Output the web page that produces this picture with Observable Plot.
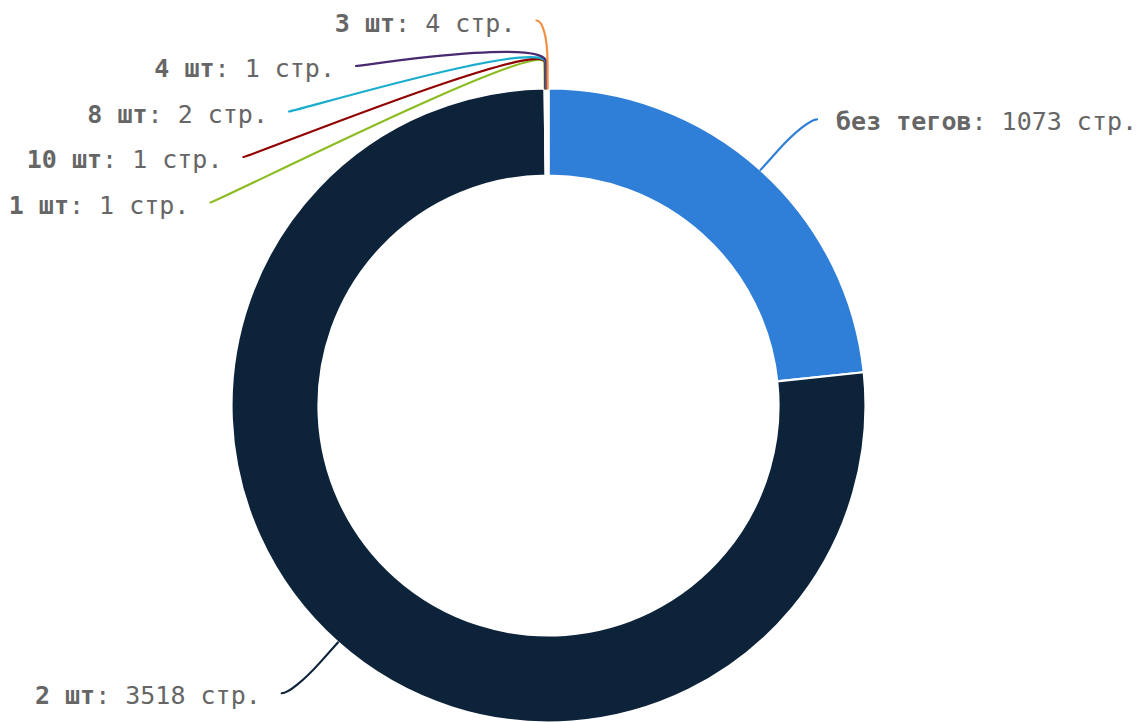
<!DOCTYPE html>
<html>
<head>
<meta charset="utf-8">
<script src="https://cdn.jsdelivr.net/npm/d3@7"></script>
<script src="https://cdn.jsdelivr.net/npm/@observablehq/plot@0.6"></script>
<style>
  html, body { margin: 0; padding: 0; background: #fff; }
  #chart svg { display: block; }
</style>
</head>
<body>
<div id="chart"></div>
<script>
// ---- data ----
const names  = ["без тегов", "2 шт", "1 шт", "10 шт", "8 шт", "4 шт", "3 шт"];
const pages  = [1073, 3518, 1, 1, 2, 1, 4];
const colors = ["#2f7ed8", "#0d233a", "#8bbc21", "#910000", "#1aadce", "#492970", "#f28f43"];
const unit   = "стр.";

// ---- layout (pixels) ----
const W = 1145, H = 722;
const cx = 548, cy = 405, R = 317, r0 = 230;
const labelR = 385, labelPad = 11, breakOff = 26, ctrl = 6, gapLeft = 21, gapRight = 19, spacing = 45.5;
const fontSize = 25, fontFamily = "DejaVu Sans Mono", cw = 0.602 * fontSize;

const rows = names.map((n, i) => ({name: n, value: pages[i]}));
const arcs = d3.pie().sort(null).value(d => d.value)(rows);
const pos = (a, rad) => [cx + rad * Math.sin(a), cy - rad * Math.cos(a)];

// slice outlines: center, outer start, outer end, inner end, inner start
const slicePts = arcs.flatMap(a =>
  [[cx, cy], pos(a.startAngle, R), pos(a.endAngle, R), pos(a.endAngle, r0), pos(a.startAngle, r0)]
    .map(([x, y]) => ({name: a.data.name, x, y})));

// custom curve drawing an annular sector from the 5 points
function ringCurve(context) {
  let p;
  return {
    areaStart() {}, areaEnd() {},
    lineStart() { p = []; },
    point(x, y) { p.push([+x, +y]); },
    lineEnd() {
      const [c, o0, o1, i1, i0] = p;
      const Ro = Math.hypot(o0[0] - c[0], o0[1] - c[1]);
      const Ri = Math.hypot(i0[0] - c[0], i0[1] - c[1]);
      const a0 = Math.atan2(o0[1] - c[1], o0[0] - c[0]);
      const a1 = Math.atan2(o1[1] - c[1], o1[0] - c[0]);
      context.moveTo(o0[0], o0[1]);
      context.arc(c[0], c[1], Ro, a0, a1, false);
      context.lineTo(i1[0], i1[1]);
      context.arc(c[0], c[1], Ri, a1, a0, true);
      context.closePath();
    }
  };
}

// connector: M p0 C p1 p2 p3 L p4
function connectorCurve(context) {
  let p;
  return {
    areaStart() {}, areaEnd() {},
    lineStart() { p = []; },
    point(x, y) { p.push([+x, +y]); },
    lineEnd() {
      context.moveTo(p[0][0], p[0][1]);
      context.bezierCurveTo(p[1][0], p[1][1], p[2][0], p[2][1], p[3][0], p[3][1]);
      context.lineTo(p[4][0], p[4][1]);
    }
  };
}

// label placement
const labels = arcs.map(a => {
  const mid = (a.startAngle + a.endAngle) / 2;
  return {name: a.data.name, value: a.data.value, mid, left: mid > Math.PI, y: cy - labelR * Math.cos(mid)};
});
for (const side of [true, false]) {
  const g = labels.filter(l => l.left === side).sort((p, q) => p.y - q.y);
  let prev = -Infinity;
  for (const l of g) { l.y = Math.max(l.y, prev + spacing); prev = l.y; }
}
labels.forEach(l => {
  const dy = l.y - cy;
  const dx = Math.sqrt(Math.max(0, labelR * labelR - dy * dy));
  const s = l.left ? -1 : 1;
  l.x = cx + s * (dx + labelPad);
  l.rest = ": " + l.value + " " + unit;
  const full = l.name + l.rest;
  l.sx = l.left ? l.x - gapLeft - full.length * cw : l.x + gapRight;
  l.rx = l.sx + l.name.length * cw;
});

const connPts = labels.flatMap(l => {
  const touch = pos(l.mid, R), brk = pos(l.mid, R + breakOff), c2 = pos(l.mid, R + 2 * breakOff);
  const c1 = [l.x + (l.left ? ctrl : -ctrl), l.y];
  return [[l.x, l.y], c1, c2, brk, touch].map(([x, y]) => ({name: l.name, x, y}));
});

const chart = Plot.plot({
  width: W, height: H, margin: 0,
  x: {domain: [0, W], range: [0, W], axis: null},
  y: {domain: [0, H], range: [0, H], axis: null},
  color: {domain: names, range: colors},
  style: {background: "#fff", overflow: "visible"},
  marks: [
    Plot.line(slicePts, {x: "x", y: "y", z: "name", fill: "name", stroke: "#fff", strokeWidth: 2.2, curve: ringCurve}),
    Plot.line(connPts, {x: "x", y: "y", z: "name", stroke: "name", strokeWidth: 2.2, curve: connectorCurve}),
    Plot.text(labels, {x: "sx", y: "y", text: "name", textAnchor: "start", fontWeight: "bold",
      fontFamily, fontSize, fill: "#666", dy: 3}),
    Plot.text(labels, {x: "rx", y: "y", text: "rest", textAnchor: "start",
      fontFamily, fontSize, fill: "#666", dy: 3})
  ]
});
document.getElementById("chart").appendChild(chart);
</script>
</body>
</html>
